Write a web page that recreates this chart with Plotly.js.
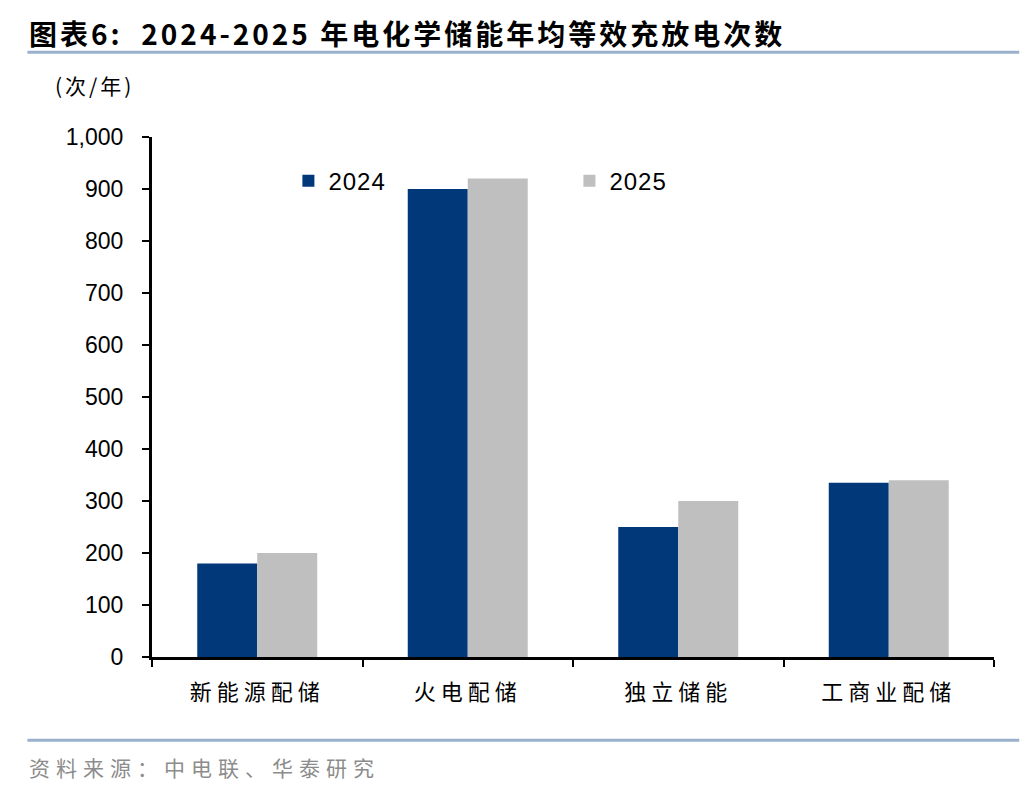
<!DOCTYPE html>
<html>
<head>
<meta charset="utf-8">
<script src="https://cdn.plot.ly/plotly-3.0.1.min.js"></script>
<style>
  body { margin: 0; background: #fff; }
  #myPlot { width: 1036px; height: 792px; }
  /* the source uses widely spaced CJK text */
  #myPlot g.annotation[data-index="0"] text { letter-spacing: 3px; }
  #myPlot g.annotation[data-index="1"] text { letter-spacing: 3px; }
  #myPlot g.annotation[data-index="2"] text { letter-spacing: 6px; }
  #myPlot .xtick text { letter-spacing: 5px; }
  #myPlot .legendtext { letter-spacing: 1px; }
</style>
</head>
<body>
<div id="myPlot"></div>
<script>
// categories and yearly values (次/年)
const categories = ['新能源配储', '火电配储', '独立储能', '工商业配储'];
const values2024 = [180, 900, 250, 335];
const values2025 = [200, 920, 300, 340];
const seriesNames = ['2024', '2025'];

const cjk = '"Noto Sans CJK SC", sans-serif';
const latin = '"Liberation Sans", Arial, sans-serif';

const data = [
  { x: categories, y: values2024, name: seriesNames[0], type: 'bar', marker: { color: '#00387A' } },
  { x: categories, y: values2025, name: seriesNames[1], type: 'bar', marker: { color: '#BFBFBF' } }
];

const layout = {
  width: 1036,
  height: 792,
  margin: { l: 152, r: 42, t: 137, b: 135 },
  paper_bgcolor: '#fff',
  plot_bgcolor: '#fff',
  barmode: 'group',
  bargap: 0.43,
  bargroupgap: 0,
  showlegend: true,
  legend: {
    orientation: 'h',
    x: 0.162, y: 0.915, xanchor: 'left', yanchor: 'middle',
    entrywidth: 236, entrywidthmode: 'pixels',
    itemwidth: 30,
    font: { family: latin, size: 24, color: '#000' },
    bgcolor: 'rgba(0,0,0,0)'
  },
  xaxis: {
    showline: true, linecolor: '#000', linewidth: 3,
    ticks: 'outside', tickson: 'boundaries', ticklen: 7, tickwidth: 2, tickcolor: '#000',
    tickfont: { family: cjk, size: 22, color: '#000' },
    ticklabelstandoff: 14,
    showgrid: false, zeroline: false
  },
  yaxis: {
    range: [0, 1000], dtick: 100, tickformat: ',',
    showline: true, linecolor: '#000', linewidth: 3,
    ticks: 'outside', ticklen: 7, tickwidth: 2, tickcolor: '#000',
    tickfont: { family: latin, size: 23, color: '#000' },
    ticklabelstandoff: 14,
    showgrid: false, zeroline: false
  },
  shapes: [
    { type: 'line', xref: 'paper', yref: 'paper', x0: -0.148, x1: 1.03, y0: 1.163, y1: 1.163,
      line: { color: '#9BB1CB', width: 3 } },
    { type: 'line', xref: 'paper', yref: 'paper', x0: -0.148, x1: 1.03, y0: -0.16, y1: -0.16,
      line: { color: '#9BB1CB', width: 3 } }
  ],
  annotations: [
    { text: '<b>图表6:  2024-2025 年电化学储能年均等效充放电次数</b>', xref: 'paper', yref: 'paper',
      x: -0.149, y: 1.2, xanchor: 'left', yanchor: 'middle', align: 'left', showarrow: false,
      font: { family: cjk, size: 28, color: '#000' } },
    { text: '(次/年)', xref: 'paper', yref: 'paper',
      x: -0.117, y: 1.1, xanchor: 'left', yanchor: 'middle', align: 'left', showarrow: false,
      font: { family: cjk, size: 21, color: '#000' } },
    { text: '资料来源：中电联、华泰研究', xref: 'paper', yref: 'paper',
      x: -0.149, y: -0.212, xanchor: 'left', yanchor: 'middle', align: 'left', showarrow: false,
      font: { family: cjk, size: 21, color: '#8C8C8C' } }
  ]
};

Plotly.newPlot('myPlot', data, layout, { displayModeBar: false });
</script>
</body>
</html>
